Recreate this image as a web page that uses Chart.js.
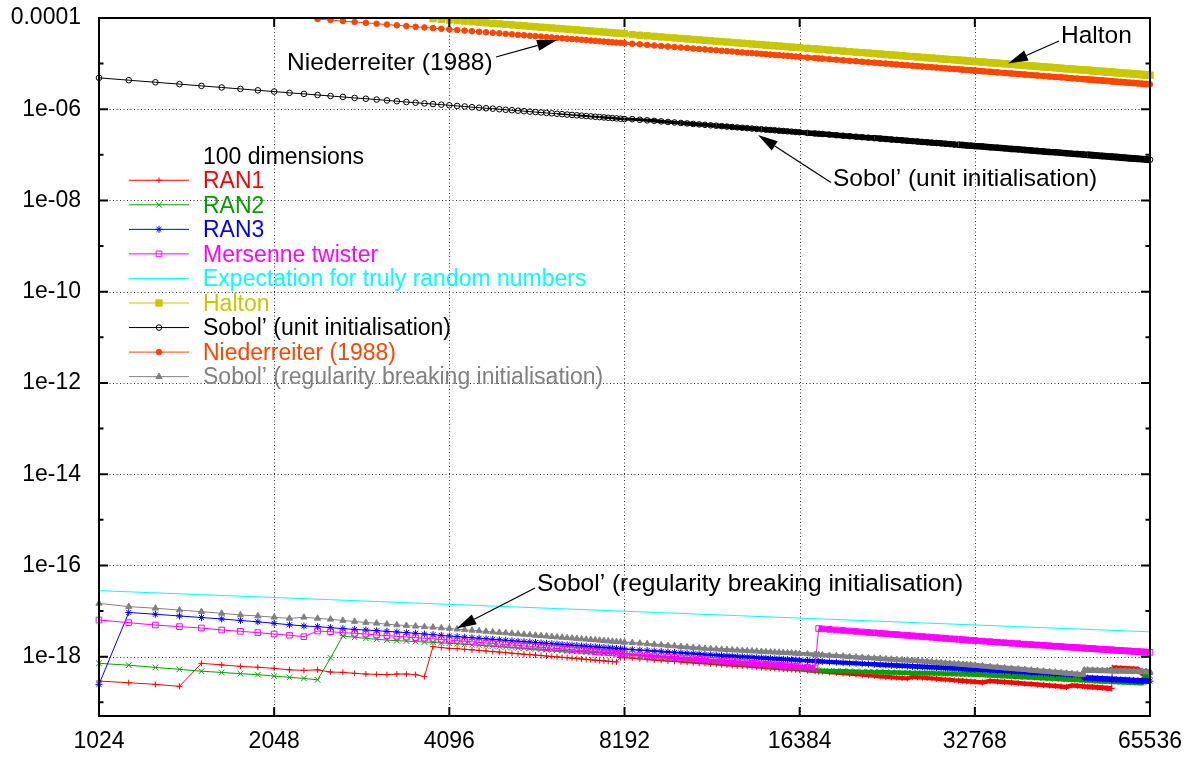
<!DOCTYPE html>
<html lang="en">
<head>
<meta charset="utf-8">
<title>100 dimensions</title>
<script src="https://cdn.jsdelivr.net/npm/chart.js@4.4.1/dist/chart.umd.min.js"></script>
<style>
  html, body { margin: 0; padding: 0; background: #ffffff; }
  canvas { display: block; }
</style>
</head>
<body>
<canvas id="chart" width="1189" height="758"></canvas>
<script>
// ---------------------------------------------------------------------------
// Data: number of points N (x) and the measured value for each generator (y)
// ---------------------------------------------------------------------------
const sampleSizes = [
  // 1024 .. 8192, every 128
  1024,1152,1280,1408,1536,1664,1792,1920,2048,2176,2304,2432,2560,2688,2816,2944,3072,3200,3328,3456,3584,3712,3840,3968,4096,
  4224,4352,4480,4608,4736,4864,4992,5120,5248,5376,5504,5632,5760,5888,6016,6144,6272,6400,6528,6656,6784,6912,7040,7168,7296,7424,7552,7680,7808,7936,8064,8192,
  // 8448 .. 16384, every 256
  8448,8704,8960,9216,9472,9728,9984,10240,10496,10752,11008,11264,11520,11776,12032,12288,12544,12800,13056,13312,13568,13824,14080,14336,14592,14848,15104,15360,15616,15872,16128,16384,
  // 16896 .. 32768, every 512 (plus 17664)
  16896,17408,17664,17920,18432,18944,19456,19968,20480,20992,21504,22016,22528,23040,23552,24064,24576,25088,25600,26112,26624,27136,27648,28160,28672,29184,29696,30208,30720,31232,31744,32256,32768,
  // 33792 .. 65536, every 1024 (plus 50560 and 56448)
  33792,34816,35840,36864,37888,38912,39936,40960,41984,43008,44032,45056,46080,47104,48128,49152,50176,50560,51200,52224,53248,54272,55296,56320,56448,57344,58368,59392,60416,61440,62464,63488,64512,65536
];
// spacing of the underlying measurements
const MEASURE_STEP = 128;

const ran1 = [
  2.92e-19,2.68e-19,2.47e-19,2.23e-19,7.13e-19,6.6e-19,6.13e-19,5.84e-19,5.54e-19,5.14e-19,5.0e-19,5.14e-19,4.6e-19,4.53e-19,4.3e-19,4.16e-19,4.09e-19,4.03e-19,4.16e-19,4.16e-19,4.03e-19,3.65e-19,1.66e-18,1.58e-18,1.52e-18,
  1.50e-18,1.45e-18,1.41e-18,1.37e-18,1.33e-18,1.29e-18,1.26e-18,1.23e-18,1.19e-18,1.16e-18,1.13e-18,1.11e-18,1.08e-18,1.06e-18,1.03e-18,1.01e-18,9.88e-19,9.66e-19,9.45e-19,9.25e-19,9.08e-19,8.89e-19,8.71e-19,8.55e-19,8.39e-19,8.22e-19,8.08e-19,7.93e-19,7.79e-19,7.66e-19,9.6e-19,9.45e-19,
  9.18e-19,8.94e-19,8.70e-19,8.47e-19,8.27e-19,8.07e-19,7.88e-19,7.70e-19,7.54e-19,7.37e-19,7.21e-19,7.07e-19,6.92e-19,6.79e-19,6.66e-19,6.53e-19,6.42e-19,6.30e-19,6.20e-19,6.09e-19,5.98e-19,5.89e-19,5.79e-19,5.71e-19,5.61e-19,5.53e-19,5.45e-19,5.37e-19,5.30e-19,5.22e-19,5.15e-19,5.08e-19,
  4.92e-19,4.78e-19,4.71e-19,4.64e-19,4.51e-19,4.39e-19,4.28e-19,4.17e-19,4.06e-19,3.96e-19,3.87e-19,3.78e-19,3.69e-19,3.61e-19,3.53e-19,3.46e-19,3.39e-19,3.32e-19,3.60e-19,3.53e-19,3.46e-19,3.40e-19,3.33e-19,3.27e-19,3.21e-19,3.16e-19,3.10e-19,3.05e-19,3.00e-19,2.95e-19,2.90e-19,2.86e-19,2.81e-19,
  2.73e-19,2.94e-19,2.86e-19,2.78e-19,2.70e-19,2.63e-19,2.56e-19,2.50e-19,2.44e-19,2.38e-19,2.33e-19,2.27e-19,2.22e-19,2.17e-19,2.34e-19,2.29e-19,2.24e-19,2.23e-19,2.20e-19,2.16e-19,2.12e-19,2.08e-19,2.04e-19,2.00e-19,5.74e-19,5.65e-19,5.57e-19,5.50e-19,5.43e-19,5.36e-19,5.29e-19,4.30e-19,4.20e-19,4.12e-19
];

const ran2 = [
  7.13e-19,6.5e-19,5.8e-19,5.27e-19,4.8e-19,4.5e-19,4.24e-19,4.03e-19,3.75e-19,3.52e-19,3.34e-19,3.1e-19,9.4e-19,2.86e-18,2.65e-18,2.52e-18,2.4e-18,2.31e-18,2.24e-18,2.2e-18,2.13e-18,2.09e-18,2.06e-18,1.99e-18,1.96e-18,
  1.91e-18,1.86e-18,1.82e-18,1.77e-18,1.73e-18,1.70e-18,1.66e-18,1.63e-18,1.59e-18,1.56e-18,1.53e-18,1.50e-18,1.48e-18,1.45e-18,1.43e-18,1.40e-18,1.38e-18,1.36e-18,1.34e-18,1.32e-18,1.30e-18,1.28e-18,1.26e-18,1.24e-18,1.23e-18,1.21e-18,1.20e-18,1.18e-18,1.17e-18,1.15e-18,1.14e-18,1.13e-18,
  1.09e-18,1.06e-18,1.02e-18,9.96e-19,9.68e-19,9.41e-19,9.15e-19,8.91e-19,8.68e-19,8.48e-19,8.27e-19,8.07e-19,7.88e-19,7.70e-19,7.52e-19,7.36e-19,7.20e-19,7.05e-19,6.90e-19,6.76e-19,6.62e-19,6.50e-19,6.37e-19,6.25e-19,6.13e-19,6.02e-19,5.91e-19,5.81e-19,5.70e-19,5.60e-19,5.51e-19,5.41e-19,
  5.24e-19,5.07e-19,5.00e-19,4.97e-19,4.92e-19,4.87e-19,4.82e-19,4.78e-19,4.73e-19,4.69e-19,4.65e-19,4.62e-19,4.58e-19,4.55e-19,4.51e-19,4.48e-19,4.45e-19,4.42e-19,4.40e-19,4.37e-19,4.35e-19,4.32e-19,4.30e-19,4.27e-19,4.25e-19,4.23e-19,4.21e-19,4.19e-19,4.17e-19,4.15e-19,4.14e-19,4.12e-19,4.10e-19,
  4.01e-19,3.93e-19,3.85e-19,3.77e-19,3.71e-19,3.64e-19,3.57e-19,3.52e-19,3.46e-19,3.40e-19,3.35e-19,3.30e-19,3.25e-19,3.21e-19,3.16e-19,3.12e-19,3.08e-19,3.07e-19,3.05e-19,3.01e-19,2.97e-19,2.94e-19,2.91e-19,2.88e-19,2.87e-19,2.84e-19,2.81e-19,2.79e-19,2.76e-19,2.73e-19,2.71e-19,2.68e-19,3.90e-19,3.85e-19
];

const ran3 = [
  2.46e-19,9.3e-18,8.5e-18,7.8e-18,7.2e-18,6.7e-18,6.2e-18,5.8e-18,5.38e-18,5.0e-18,4.7e-18,4.55e-18,4.32e-18,4.11e-18,3.97e-18,3.83e-18,3.70e-18,3.59e-18,3.47e-18,3.36e-18,3.25e-18,3.13e-18,3.03e-18,2.93e-18,2.83e-18,
  2.75e-18,2.67e-18,2.60e-18,2.53e-18,2.46e-18,2.40e-18,2.34e-18,2.29e-18,2.23e-18,2.18e-18,2.13e-18,2.09e-18,2.04e-18,2.00e-18,1.96e-18,1.92e-18,1.89e-18,1.85e-18,1.82e-18,1.78e-18,1.75e-18,1.72e-18,1.69e-18,1.66e-18,1.64e-18,1.61e-18,1.58e-18,1.56e-18,1.54e-18,1.51e-18,1.49e-18,1.47e-18,
  1.43e-18,1.39e-18,1.36e-18,1.33e-18,1.30e-18,1.27e-18,1.24e-18,1.22e-18,1.19e-18,1.17e-18,1.15e-18,1.12e-18,1.10e-18,1.08e-18,1.06e-18,1.05e-18,1.03e-18,1.01e-18,9.97e-19,9.82e-19,9.67e-19,9.53e-19,9.39e-19,9.26e-19,9.13e-19,9.01e-19,8.90e-19,8.78e-19,8.67e-19,8.56e-19,8.46e-19,8.36e-19,
  8.17e-19,8.00e-19,7.91e-19,7.83e-19,7.67e-19,7.53e-19,7.38e-19,7.25e-19,7.13e-19,7.00e-19,6.89e-19,6.78e-19,6.67e-19,6.57e-19,6.48e-19,6.39e-19,6.30e-19,6.21e-19,6.13e-19,6.05e-19,5.98e-19,5.91e-19,5.84e-19,5.77e-19,5.71e-19,5.65e-19,5.59e-19,5.53e-19,5.48e-19,5.42e-19,5.37e-19,5.32e-19,5.27e-19,
  5.16e-19,5.05e-19,4.95e-19,4.85e-19,4.76e-19,4.67e-19,4.59e-19,4.51e-19,4.44e-19,4.37e-19,4.30e-19,4.24e-19,4.18e-19,4.12e-19,4.06e-19,4.01e-19,3.95e-19,3.42e-19,3.39e-19,3.35e-19,3.30e-19,3.26e-19,3.22e-19,3.18e-19,3.18e-19,3.14e-19,3.11e-19,3.08e-19,3.04e-19,3.01e-19,2.98e-19,2.95e-19,2.92e-19,2.89e-19
];

const mersenne = [
  6.35e-18,5.57e-18,4.93e-18,4.55e-18,4.24e-18,3.83e-18,3.59e-18,3.36e-18,3.13e-18,2.95e-18,2.74e-18,3.65e-18,3.53e-18,3.36e-18,3.25e-18,3.13e-18,2.98e-18,2.89e-18,2.78e-18,2.69e-18,2.61e-18,2.53e-18,2.45e-18,2.38e-18,2.31e-18,
  2.24e-18,2.17e-18,2.11e-18,2.05e-18,1.99e-18,1.94e-18,1.89e-18,1.85e-18,1.80e-18,1.76e-18,1.72e-18,1.68e-18,1.64e-18,1.60e-18,1.57e-18,1.54e-18,1.51e-18,1.48e-18,1.45e-18,1.42e-18,1.39e-18,1.37e-18,1.34e-18,1.32e-18,1.29e-18,1.27e-18,1.25e-18,1.23e-18,1.21e-18,1.19e-18,1.17e-18,1.15e-18,
  1.12e-18,1.09e-18,1.06e-18,1.03e-18,1.00e-18,9.79e-19,9.55e-19,9.33e-19,9.11e-19,8.90e-19,8.71e-19,8.52e-19,8.34e-19,8.17e-19,8.01e-19,7.85e-19,7.70e-19,7.56e-19,7.42e-19,7.29e-19,7.16e-19,7.04e-19,6.92e-19,6.80e-19,6.69e-19,6.59e-19,6.48e-19,6.38e-19,6.29e-19,6.19e-19,6.10e-19,6.02e-19,
  5.85e-19,5.70e-19,4.13e-18,4.07e-18,3.96e-18,3.86e-18,3.76e-18,3.66e-18,3.57e-18,3.49e-18,3.40e-18,3.33e-18,3.25e-18,3.18e-18,3.11e-18,3.05e-18,2.98e-18,2.92e-18,2.87e-18,2.81e-18,2.76e-18,2.71e-18,2.66e-18,2.61e-18,2.56e-18,2.52e-18,2.47e-18,2.44e-18,2.40e-18,2.36e-18,2.32e-18,2.28e-18,2.25e-18,
  2.19e-18,2.13e-18,2.07e-18,2.02e-18,1.97e-18,1.93e-18,1.88e-18,1.84e-18,1.80e-18,1.77e-18,1.73e-18,1.70e-18,1.67e-18,1.63e-18,1.60e-18,1.58e-18,1.55e-18,1.54e-18,1.52e-18,1.50e-18,1.47e-18,1.45e-18,1.43e-18,1.40e-18,1.40e-18,1.38e-18,1.36e-18,1.34e-18,1.33e-18,1.31e-18,1.29e-18,1.27e-18,1.26e-18,1.24e-18
];

// straight reference line, no markers: one value per octave
const randomExpectationN = [1024, 2048, 4096, 8192, 16384, 32768, 65536];
const randomExpectation  = [2.8e-17, 1.98e-17, 1.4e-17, 9.9e-18, 7.0e-18, 4.95e-18, 3.5e-18];

const halton = [
  null,null,null,null,null,null,null,null,null,null,null,null,null,null,null,null,null,null,null,null,null,1.02e-4,9.67e-5,9.35e-5,9.06e-5,
  8.79e-5,8.53e-5,8.29e-5,8.06e-5,7.84e-5,7.63e-5,7.44e-5,7.25e-5,7.07e-5,6.90e-5,6.74e-5,6.59e-5,6.44e-5,6.30e-5,6.17e-5,6.04e-5,5.92e-5,5.80e-5,5.69e-5,5.58e-5,5.47e-5,5.37e-5,5.27e-5,5.18e-5,5.09e-5,5.00e-5,4.92e-5,4.83e-5,4.75e-5,4.68e-5,4.60e-5,4.53e-5,
  4.32e-5,4.19e-5,4.07e-5,3.96e-5,3.85e-5,3.75e-5,3.65e-5,3.56e-5,3.48e-5,3.39e-5,3.31e-5,3.24e-5,3.17e-5,3.10e-5,3.03e-5,2.97e-5,2.91e-5,2.85e-5,2.79e-5,2.74e-5,2.69e-5,2.64e-5,2.59e-5,2.54e-5,2.50e-5,2.46e-5,2.42e-5,2.38e-5,2.34e-5,2.30e-5,2.26e-5,2.23e-5,
  2.16e-5,2.10e-5,2.07e-5,2.04e-5,1.98e-5,1.93e-5,1.88e-5,1.83e-5,1.78e-5,1.74e-5,1.70e-5,1.66e-5,1.62e-5,1.58e-5,1.55e-5,1.52e-5,1.48e-5,1.45e-5,1.43e-5,1.40e-5,1.37e-5,1.34e-5,1.32e-5,1.30e-5,1.27e-5,1.25e-5,1.23e-5,1.21e-5,1.19e-5,1.17e-5,1.15e-5,1.13e-5,1.11e-5,
  1.08e-5,1.05e-5,1.02e-5,9.90e-6,9.63e-6,9.38e-6,9.13e-6,8.91e-6,8.69e-6,8.48e-6,8.28e-6,8.10e-6,7.92e-6,7.74e-6,7.58e-6,7.42e-6,7.27e-6,7.22e-6,7.13e-6,6.99e-6,6.85e-6,6.72e-6,6.60e-6,6.48e-6,6.46e-6,6.36e-6,6.25e-6,6.14e-6,6.04e-6,5.94e-6,5.84e-6,5.75e-6,5.65e-6,5.57e-6
];

const sobolUnit = [
  4.88e-6,4.33e-6,3.90e-6,3.55e-6,3.25e-6,3.00e-6,2.79e-6,2.60e-6,2.44e-6,2.29e-6,2.17e-6,2.05e-6,1.95e-6,1.86e-6,1.77e-6,1.70e-6,1.63e-6,1.56e-6,1.50e-6,1.44e-6,1.39e-6,1.34e-6,1.30e-6,1.26e-6,1.22e-6,
  1.18e-6,1.15e-6,1.11e-6,1.08e-6,1.05e-6,1.03e-6,1.00e-6,9.75e-7,9.51e-7,9.29e-7,9.07e-7,8.86e-7,8.67e-7,8.48e-7,8.30e-7,8.13e-7,7.96e-7,7.80e-7,7.65e-7,7.50e-7,7.36e-7,7.22e-7,7.09e-7,6.96e-7,6.84e-7,6.72e-7,6.61e-7,6.50e-7,6.39e-7,6.29e-7,6.19e-7,6.09e-7,
  6.06e-7,5.88e-7,5.71e-7,5.56e-7,5.41e-7,5.26e-7,5.13e-7,5.00e-7,4.88e-7,4.76e-7,4.65e-7,4.55e-7,4.44e-7,4.35e-7,4.26e-7,4.17e-7,4.08e-7,4.00e-7,3.92e-7,3.85e-7,3.77e-7,3.70e-7,3.64e-7,3.57e-7,3.51e-7,3.45e-7,3.39e-7,3.33e-7,3.28e-7,3.23e-7,3.17e-7,3.13e-7,
  3.03e-7,2.94e-7,2.90e-7,2.86e-7,2.78e-7,2.70e-7,2.63e-7,2.56e-7,2.50e-7,2.44e-7,2.38e-7,2.33e-7,2.27e-7,2.22e-7,2.17e-7,2.13e-7,2.08e-7,2.04e-7,2.00e-7,1.96e-7,1.92e-7,1.89e-7,1.85e-7,1.82e-7,1.79e-7,1.75e-7,1.72e-7,1.69e-7,1.67e-7,1.64e-7,1.61e-7,1.59e-7,1.56e-7,
  1.52e-7,1.47e-7,1.43e-7,1.39e-7,1.35e-7,1.32e-7,1.28e-7,1.25e-7,1.22e-7,1.19e-7,1.16e-7,1.14e-7,1.11e-7,1.09e-7,1.06e-7,1.04e-7,1.02e-7,1.01e-7,1.00e-7,9.80e-8,9.62e-8,9.43e-8,9.26e-8,9.09e-8,9.07e-8,8.93e-8,8.77e-8,8.62e-8,8.47e-8,8.33e-8,8.20e-8,8.06e-8,7.94e-8,7.81e-8
];

const niederreiter = [
  null,null,null,null,null,null,null,null,null,null,1.05e-4,9.47e-5,9.00e-5,8.57e-5,8.18e-5,7.83e-5,7.50e-5,7.20e-5,6.92e-5,6.67e-5,6.43e-5,6.21e-5,6.00e-5,5.81e-5,5.63e-5,
  5.45e-5,5.29e-5,5.14e-5,5.00e-5,4.86e-5,4.74e-5,4.62e-5,4.50e-5,4.39e-5,4.29e-5,4.19e-5,4.09e-5,4.00e-5,3.91e-5,3.83e-5,3.75e-5,3.67e-5,3.60e-5,3.53e-5,3.46e-5,3.40e-5,3.33e-5,3.27e-5,3.21e-5,3.16e-5,3.10e-5,3.05e-5,3.00e-5,2.95e-5,2.90e-5,2.86e-5,2.81e-5,
  2.73e-5,2.65e-5,2.57e-5,2.50e-5,2.43e-5,2.37e-5,2.31e-5,2.25e-5,2.20e-5,2.14e-5,2.09e-5,2.05e-5,2.00e-5,1.96e-5,1.91e-5,1.88e-5,1.84e-5,1.80e-5,1.76e-5,1.73e-5,1.70e-5,1.67e-5,1.64e-5,1.61e-5,1.58e-5,1.55e-5,1.53e-5,1.50e-5,1.48e-5,1.45e-5,1.43e-5,1.41e-5,
  1.36e-5,1.32e-5,1.30e-5,1.29e-5,1.25e-5,1.22e-5,1.18e-5,1.15e-5,1.13e-5,1.10e-5,1.07e-5,1.05e-5,1.02e-5,1.00e-5,9.78e-6,9.57e-6,9.38e-6,9.18e-6,9.00e-6,8.82e-6,8.65e-6,8.49e-6,8.33e-6,8.18e-6,8.04e-6,7.89e-6,7.76e-6,7.63e-6,7.50e-6,7.38e-6,7.26e-6,7.14e-6,7.03e-6,
  6.82e-6,6.62e-6,6.43e-6,6.25e-6,6.08e-6,5.92e-6,5.77e-6,5.63e-6,5.49e-6,5.36e-6,5.23e-6,5.11e-6,5.00e-6,4.89e-6,4.79e-6,4.69e-6,4.59e-6,4.56e-6,4.50e-6,4.41e-6,4.33e-6,4.25e-6,4.17e-6,4.09e-6,4.08e-6,4.02e-6,3.95e-6,3.88e-6,3.81e-6,3.75e-6,3.69e-6,3.63e-6,3.57e-6,3.52e-6
];

const sobolRegular = [
  1.47e-17,1.25e-17,1.15e-17,1.05e-17,9.7e-18,8.9e-18,8.2e-18,7.8e-18,7.3e-18,6.9e-18,7.3e-18,6.9e-18,6.6e-18,6.2e-18,5.9e-18,5.6e-18,5.4e-18,5.15e-18,4.95e-18,4.8e-18,4.65e-18,4.5e-18,4.4e-18,4.25e-18,4.15e-18,
  4.00e-18,3.88e-18,3.77e-18,3.67e-18,3.57e-18,3.47e-18,3.38e-18,3.30e-18,3.22e-18,3.14e-18,3.07e-18,3.00e-18,2.93e-18,2.87e-18,2.81e-18,2.75e-18,2.69e-18,2.64e-18,2.59e-18,2.54e-18,2.49e-18,2.44e-18,2.40e-18,2.36e-18,2.32e-18,2.28e-18,2.24e-18,2.20e-18,2.16e-18,2.13e-18,2.10e-18,2.06e-18,
  2.02e-18,1.96e-18,1.90e-18,1.85e-18,1.80e-18,1.75e-18,1.71e-18,1.66e-18,1.62e-18,1.58e-18,1.55e-18,1.51e-18,1.49e-18,1.46e-18,1.44e-18,1.42e-18,1.40e-18,1.38e-18,1.36e-18,1.34e-18,1.33e-18,1.31e-18,1.29e-18,1.28e-18,1.26e-18,1.25e-18,1.24e-18,1.22e-18,1.21e-18,1.20e-18,1.18e-18,1.17e-18,
  1.14e-18,1.11e-18,1.10e-18,1.09e-18,1.06e-18,1.04e-18,1.02e-18,9.96e-19,9.76e-19,9.57e-19,9.39e-19,9.22e-19,9.05e-19,8.90e-19,8.74e-19,8.60e-19,8.46e-19,8.33e-19,8.20e-19,8.09e-19,7.93e-19,7.78e-19,7.64e-19,7.50e-19,7.37e-19,7.24e-19,7.11e-19,6.99e-19,6.88e-19,6.76e-19,6.65e-19,6.55e-19,6.45e-19,
  6.23e-19,6.04e-19,5.85e-19,5.67e-19,5.50e-19,5.35e-19,5.20e-19,5.05e-19,4.92e-19,4.79e-19,4.66e-19,4.55e-19,4.43e-19,4.33e-19,4.22e-19,4.13e-19,4.03e-19,5.06e-19,5.04e-19,5.01e-19,4.98e-19,4.95e-19,4.92e-19,4.90e-19,4.89e-19,4.87e-19,4.84e-19,4.82e-19,4.79e-19,4.77e-19,4.75e-19,4.73e-19,4.71e-19,4.69e-19
];

// Axis ticks
const xTickValues = [1024, 2048, 4096, 8192, 16384, 32768, 65536];
const xTickLabels = ['1024', '2048', '4096', '8192', '16384', '32768', '65536'];
const yTickValues = [1e-4, 1e-6, 1e-8, 1e-10, 1e-12, 1e-14, 1e-16, 1e-18];
const yTickLabels = ['0.0001', '1e-06', '1e-08', '1e-10', '1e-12', '1e-14', '1e-16', '1e-18'];
const yMinorTickValues = [1e-5, 1e-7, 1e-9, 1e-11, 1e-13, 1e-15, 1e-17, 1e-19];
const Y_MIN = 5e-20, Y_MAX = 1e-4;

const legendTitle = '100 dimensions';
const seriesLabels = [
  'RAN1', 'RAN2', 'RAN3', 'Mersenne twister', 'Expectation for truly random numbers',
  'Halton', 'Sobol\u2019 (unit initialisation)', 'Niederreiter (1988)',
  'Sobol\u2019 (regularity breaking initialisation)'
];

// ---------------------------------------------------------------------------
// Styling
// ---------------------------------------------------------------------------
const FONT = '"Liberation Sans", Arial, Helvetica, sans-serif';
const TICK_FONT_SIZE = 23;
const KEY_FONT_SIZE = 23;
const NOTE_FONT_SIZE = 24.5;

// band: width the curve reaches once its markers are packed side by side
const seriesStyles = [
  { xs: sampleSizes, ys: ran1,         color: '#ff0000', pointStyle: 'cross',    radius: 3,   filled: false, band: 5.5 },
  { xs: sampleSizes, ys: ran2,         color: '#00a000', pointStyle: 'crossRot', radius: 4,   filled: false, band: 6 },
  { xs: sampleSizes, ys: ran3,         color: '#0000ff', pointStyle: 'star',     radius: 3.5, filled: false, band: 6 },
  { xs: sampleSizes, ys: mersenne,     color: '#ff00ff', pointStyle: 'rect',     radius: 4,   filled: false, band: 7 },
  { xs: randomExpectationN, ys: randomExpectation, color: '#00ffff', pointStyle: null, radius: 0, filled: false, band: 1 },
  { xs: sampleSizes, ys: halton,       color: '#c8c800', pointStyle: 'rect',     radius: 4.5, filled: true,  band: 8.5 },
  { xs: sampleSizes, ys: sobolUnit,    color: '#000000', pointStyle: 'circle',   radius: 2.8, filled: false, band: 7.5 },
  { xs: sampleSizes, ys: niederreiter, color: '#ff4500', pointStyle: 'circle',   radius: 2.8, filled: true,  band: 7 },
  { xs: sampleSizes, ys: sobolRegular, color: '#808080', pointStyle: 'triangle', radius: 3.6, filled: true,  band: 6 }
].map((s, i) => Object.assign(s, { label: seriesLabels[i] }));

// line width of one segment: 1px while markers are apart, growing into a
// solid band where consecutive measurements sit closer than a marker
function segmentWidth(s) {
  return c => {
    if (s.band <= 1) return 1;
    const dx = Math.abs(c.p1.x - c.p0.x), dy = Math.abs(c.p1.y - c.p0.y);
    if (dy > 2 * dx + 3) return 1;                       // a step between two runs
    const n = s.xs[c.p1DataIndex];
    const xs = c.chart.scales.x;
    const gap = xs.getPixelForValue(n) - xs.getPixelForValue(n - MEASURE_STEP);
    return Math.max(1, Math.round((s.band - 1.2 * gap) * 2) / 2);
  };
}

const datasets = seriesStyles.map((s, i) => ({
  label: s.label,
  data: s.xs.map((x, j) => ({ x, y: s.ys[j] === undefined ? null : s.ys[j] })),
  borderColor: s.color,
  backgroundColor: s.filled ? s.color : 'rgba(0,0,0,0)',
  borderWidth: 1,
  segment: { borderWidth: segmentWidth(s) },
  pointStyle: s.pointStyle || 'circle',
  pointRadius: c => (!s.pointStyle || (c.raw && c.raw.y > Y_MAX)) ? 0 : s.radius,
  pointBorderColor: s.color,
  pointBackgroundColor: s.filled ? s.color : 'rgba(0,0,0,0)',
  pointBorderWidth: 1,
  tension: 0,
  spanGaps: false,
  clip: { left: 10, top: 0, right: 10, bottom: 10 },
  order: seriesStyles.length - i      // later series are painted on top
}));

// ---------------------------------------------------------------------------
// Plugins: dotted grid, frame with inward ticks, key, arrow labels
// ---------------------------------------------------------------------------
function drawMarker(ctx, s, x, y) {
  const r = s.radius;
  ctx.save();
  ctx.strokeStyle = s.color;
  ctx.fillStyle = s.color;
  ctx.lineWidth = 1;
  ctx.beginPath();
  const d = r * Math.SQRT1_2;
  switch (s.pointStyle) {
    case 'cross':
      ctx.moveTo(x - r, y); ctx.lineTo(x + r, y); ctx.moveTo(x, y - r); ctx.lineTo(x, y + r);
      ctx.stroke(); break;
    case 'crossRot':
      ctx.moveTo(x - d, y - d); ctx.lineTo(x + d, y + d); ctx.moveTo(x - d, y + d); ctx.lineTo(x + d, y - d);
      ctx.stroke(); break;
    case 'star':
      ctx.moveTo(x - r, y); ctx.lineTo(x + r, y); ctx.moveTo(x, y - r); ctx.lineTo(x, y + r);
      ctx.moveTo(x - d, y - d); ctx.lineTo(x + d, y + d); ctx.moveTo(x - d, y + d); ctx.lineTo(x + d, y - d);
      ctx.stroke(); break;
    case 'rect':
      ctx.rect(x - d, y - d, 2 * d, 2 * d);
      if (s.filled) ctx.fill();
      ctx.stroke(); break;
    case 'circle':
      ctx.arc(x, y, r, 0, Math.PI * 2);
      if (s.filled) ctx.fill();
      ctx.stroke(); break;
    case 'triangle':
      ctx.moveTo(x, y - r);
      ctx.lineTo(x + r * Math.sin(Math.PI * 2 / 3), y - r * Math.cos(Math.PI * 2 / 3));
      ctx.lineTo(x + r * Math.sin(Math.PI * 4 / 3), y - r * Math.cos(Math.PI * 4 / 3));
      ctx.closePath();
      if (s.filled) ctx.fill();
      ctx.stroke(); break;
  }
  ctx.restore();
}

const gridAndFrame = {
  id: 'gridAndFrame',
  beforeDatasetsDraw(chart) {
    const { ctx, chartArea: a, scales: { x, y } } = chart;
    ctx.save();
    ctx.strokeStyle = 'rgba(0,0,0,0.8)';
    ctx.lineWidth = 1;
    ctx.setLineDash([1, 2.5]);
    ctx.beginPath();
    xTickValues.forEach(v => {
      const px = Math.round(x.getPixelForValue(v)) + 0.5;
      if (px <= a.left + 2 || px >= a.right - 2) return;
      ctx.moveTo(px, a.top); ctx.lineTo(px, a.bottom);
    });
    yTickValues.forEach(v => {
      const py = Math.round(y.getPixelForValue(v)) + 0.5;
      if (py <= a.top + 2 || py >= a.bottom - 2) return;
      ctx.moveTo(a.left, py); ctx.lineTo(a.right, py);
    });
    ctx.stroke();
    ctx.restore();
  },
  afterDatasetsDraw(chart) {
    const { ctx, chartArea: a, scales: { x, y } } = chart;
    ctx.save();
    ctx.strokeStyle = '#000';
    ctx.lineWidth = 2;
    ctx.setLineDash([]);
    ctx.strokeRect(a.left, a.top, a.right - a.left, a.bottom - a.top);
    ctx.beginPath();
    const major = 9, minor = 4.5;
    xTickValues.forEach(v => {
      const px = x.getPixelForValue(v);
      ctx.moveTo(px, a.bottom); ctx.lineTo(px, a.bottom - major);
      ctx.moveTo(px, a.top);    ctx.lineTo(px, a.top + major);
    });
    yTickValues.forEach(v => {
      const py = y.getPixelForValue(v);
      ctx.moveTo(a.left, py);  ctx.lineTo(a.left + major, py);
      ctx.moveTo(a.right, py); ctx.lineTo(a.right - major, py);
    });
    yMinorTickValues.forEach(v => {
      const py = y.getPixelForValue(v);
      ctx.moveTo(a.left, py);  ctx.lineTo(a.left + minor, py);
      ctx.moveTo(a.right, py); ctx.lineTo(a.right - minor, py);
    });
    ctx.stroke();
    ctx.restore();
  }
};

// key placed inside the plot, text coloured like its series
const KEY = { textX: 203, titleBaseline: 163.5, rowStep: 24.55, lineX0: 129, lineX1: 189, lineLift: 7.8 };

const keyBox = {
  id: 'keyBox',
  afterDraw(chart) {
    const ctx = chart.ctx;
    ctx.save();
    ctx.font = `${KEY_FONT_SIZE}px ${FONT}`;
    ctx.textAlign = 'left';
    ctx.textBaseline = 'alphabetic';
    ctx.fillStyle = '#000';
    ctx.fillText(legendTitle, KEY.textX, KEY.titleBaseline);
    seriesStyles.forEach((s, i) => {
      const base = KEY.titleBaseline + (i + 1) * KEY.rowStep;
      const ly = base - KEY.lineLift;
      ctx.strokeStyle = s.color;
      ctx.lineWidth = 1;
      ctx.beginPath();
      ctx.moveTo(KEY.lineX0, ly); ctx.lineTo(KEY.lineX1, ly);
      ctx.stroke();
      if (s.pointStyle) drawMarker(ctx, s, (KEY.lineX0 + KEY.lineX1) / 2, ly);
      ctx.fillStyle = s.color;
      ctx.fillText(s.label, KEY.textX, base);
    });
    ctx.restore();
  }
};

// labelled arrows pointing at individual curves
const callouts = [
  { text: 'Niederreiter (1988)', tx: 287, ty: 70, from: [496, 57], to: [557, 40] },
  { text: 'Halton', tx: 1061, ty: 42.5, from: [1059, 41], to: [1008, 63.5] },
  { text: 'Sobol\u2019 (unit initialisation)', tx: 833, ty: 186, from: [831, 182.5], to: [758, 135] },
  { text: 'Sobol\u2019 (regularity breaking initialisation)', tx: 537, ty: 590.5, from: [535, 588], to: [456.5, 628.5] }
];

const calloutPlugin = {
  id: 'callouts',
  afterDraw(chart) {
    const ctx = chart.ctx;
    ctx.save();
    ctx.font = `${NOTE_FONT_SIZE}px ${FONT}`;
    ctx.textAlign = 'left';
    ctx.textBaseline = 'alphabetic';
    ctx.fillStyle = '#000';
    ctx.strokeStyle = '#000';
    ctx.lineWidth = 1.2;
    const headLen = 20, headHalf = 5.5;
    callouts.forEach(c => {
      ctx.fillText(c.text, c.tx, c.ty);
      const [x1, y1] = c.from, [x2, y2] = c.to;
      const ang = Math.atan2(y2 - y1, x2 - x1);
      const bx = x2 - headLen * Math.cos(ang), by = y2 - headLen * Math.sin(ang);
      ctx.beginPath();
      ctx.moveTo(x1, y1); ctx.lineTo(bx, by);
      ctx.stroke();
      ctx.beginPath();
      ctx.moveTo(x2, y2);
      ctx.lineTo(bx + headHalf * Math.sin(ang), by - headHalf * Math.cos(ang));
      ctx.lineTo(bx - headHalf * Math.sin(ang), by + headHalf * Math.cos(ang));
      ctx.closePath();
      ctx.fill();
    });
    ctx.restore();
  }
};

// fixed axis boxes; label overhang must not shrink the plot area
function fixBox(size, horizontal) {
  return s => {
    if (horizontal) s.height = size; else s.width = size;
    s.paddingTop = 0; s.paddingBottom = 0; s.paddingLeft = 0; s.paddingRight = 0;
  };
}

// ---------------------------------------------------------------------------
// Chart
// ---------------------------------------------------------------------------
Chart.defaults.font.family = FONT;
Chart.defaults.font.size = TICK_FONT_SIZE;
Chart.defaults.color = '#000';

new Chart(document.getElementById('chart'), {
  type: 'line',
  data: { datasets },
  options: {
    responsive: false,
    animation: false,
    devicePixelRatio: 1,
    events: [],
    layout: { padding: { left: 0, right: 39, top: 18, bottom: 0 } },
    plugins: { legend: { display: false }, tooltip: { enabled: false } },
    scales: {
      x: {
        type: 'logarithmic',
        min: 1024, max: 65536, bounds: 'data',
        grid: { display: false, drawTicks: false },
        border: { display: false },
        afterBuildTicks: s => { s.ticks = xTickValues.map(v => ({ value: v })); },
        afterFit: fixBox(42, true),
        ticks: {
          autoSkip: false, maxRotation: 0, minRotation: 0, padding: 12,
          font: { family: FONT, size: TICK_FONT_SIZE }, color: '#000',
          callback: (v, i) => xTickLabels[i]
        }
      },
      y: {
        type: 'logarithmic',
        min: Y_MIN, max: Y_MAX, bounds: 'data',
        grid: { display: false, drawTicks: false },
        border: { display: false },
        afterBuildTicks: s => { s.ticks = yTickValues.map(v => ({ value: v })); },
        afterFit: fixBox(99, false),
        ticks: {
          autoSkip: false, padding: 18,
          font: { family: FONT, size: TICK_FONT_SIZE }, color: '#000',
          callback: (v, i) => yTickLabels[i]
        }
      }
    }
  },
  plugins: [gridAndFrame, keyBox, calloutPlugin]
});
</script>
</body>
</html>
